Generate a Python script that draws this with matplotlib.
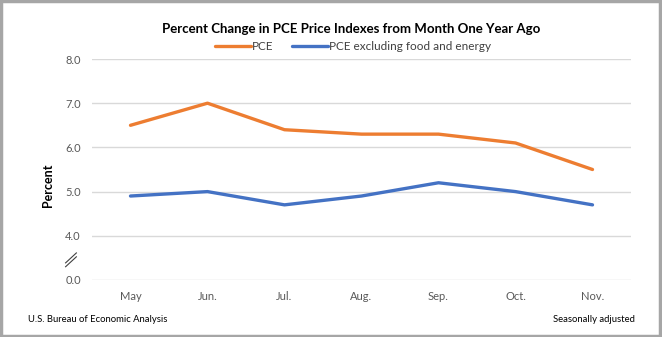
import matplotlib
matplotlib.use("Agg")
import matplotlib.pyplot as plt
import matplotlib.transforms as mtransforms
from matplotlib.patches import Rectangle
import numpy as np

months = ["May", "Jun.", "Jul.", "Aug.", "Sep.", "Oct.", "Nov."]
pce = [6.5, 7.0, 6.4, 6.3, 6.3, 6.1, 5.5]
pce_core = [4.9, 5.0, 4.7, 4.9, 5.2, 5.0, 4.7]
ytick_values = [0.0, 4.0, 5.0, 6.0, 7.0, 8.0]
ytick_labels = ["0.0", "4.0", "5.0", "6.0", "7.0", "8.0"]

FONT = "Lato"
ORANGE = "#ED7D31"
BLUE = "#4472C4"
GRID = "#d9d9d9"
TICK = "#595959"


# Broken axis: 0-4 squeezed into one grid step, linear above 4
def fwd(v):
    v = np.asarray(v, dtype=float)
    return np.where(v < 4, v / 4.0, v - 3.0)


def inv(u):
    u = np.asarray(u, dtype=float)
    return np.where(u < 1, u * 4.0, u + 3.0)


fig = plt.figure(figsize=(6.62, 3.37), dpi=100)
ax = fig.add_axes([92 / 662, 1 - 280 / 337, (631 - 92) / 662, (280 - 59) / 337])
ax.set_yscale("function", functions=(fwd, inv))

x = np.arange(len(months)) + 0.5
ax.plot(x, pce, color=ORANGE, lw=2.4, label="PCE", solid_capstyle="round")
ax.plot(x, pce_core, color=BLUE, lw=2.4, label="PCE excluding food and energy",
        solid_capstyle="round")

ax.set_xlim(0, len(months))
ax.set_ylim(0, 8)
ax.set_yticks(ytick_values)
ax.set_yticklabels(ytick_labels)
ax.yaxis.set_minor_locator(matplotlib.ticker.NullLocator())
ax.set_xticks(x)
ax.set_xticklabels(months)
ax.grid(axis="y", color=GRID, lw=1)
ax.set_axisbelow(True)
for s in ax.spines.values():
    s.set_visible(False)
ax.tick_params(length=0, colors=TICK, labelsize=8)
ax.tick_params(axis="y", pad=8)
ax.tick_params(axis="x", pad=8)
for lab in ax.get_xticklabels() + ax.get_yticklabels():
    lab.set_fontfamily(FONT)

ax.set_ylabel("Percent", fontsize=9, fontweight="bold", fontfamily=FONT,
              color="black")
ax.yaxis.set_label_coords(-0.071, 0.43)

# Axis break marks
trans = mtransforms.blended_transform_factory(ax.transAxes, ax.transData)
for dy in (0.0, -0.35):
    ax.plot([-0.049, -0.029], [1.55 + dy, 2.45 + dy], transform=trans,
            color="#404040", lw=0.8, clip_on=False)

fig.text(351 / 662, 1 - 29 / 337, "Percent Change in PCE Price Indexes from Month One Year Ago",
         ha="center", va="center", fontsize=9.5, fontweight="bold", fontfamily=FONT)

leg = fig.legend(loc="center", bbox_to_anchor=(353 / 662, 1 - 47 / 337), ncol=2,
                 frameon=False, prop={"family": FONT, "size": 8.5},
                 handlelength=3.0, handletextpad=0.1, columnspacing=1.6)
for t in leg.get_texts():
    t.set_color("#404040")

fig.text(28 / 662, 1 - 319 / 337, "U.S. Bureau of Economic Analysis", ha="left",
         va="center", fontsize=6.8, fontfamily=FONT)
fig.text(635 / 662, 1 - 319 / 337, "Seasonally adjusted", ha="right",
         va="center", fontsize=6.8, fontfamily=FONT)

fig.patches.append(Rectangle((0.002, 0.003), 0.995, 0.993, transform=fig.transFigure,
                             fill=False, edgecolor="#a6a6a6", lw=2.5))

fig.savefig("out.png", dpi=100)
